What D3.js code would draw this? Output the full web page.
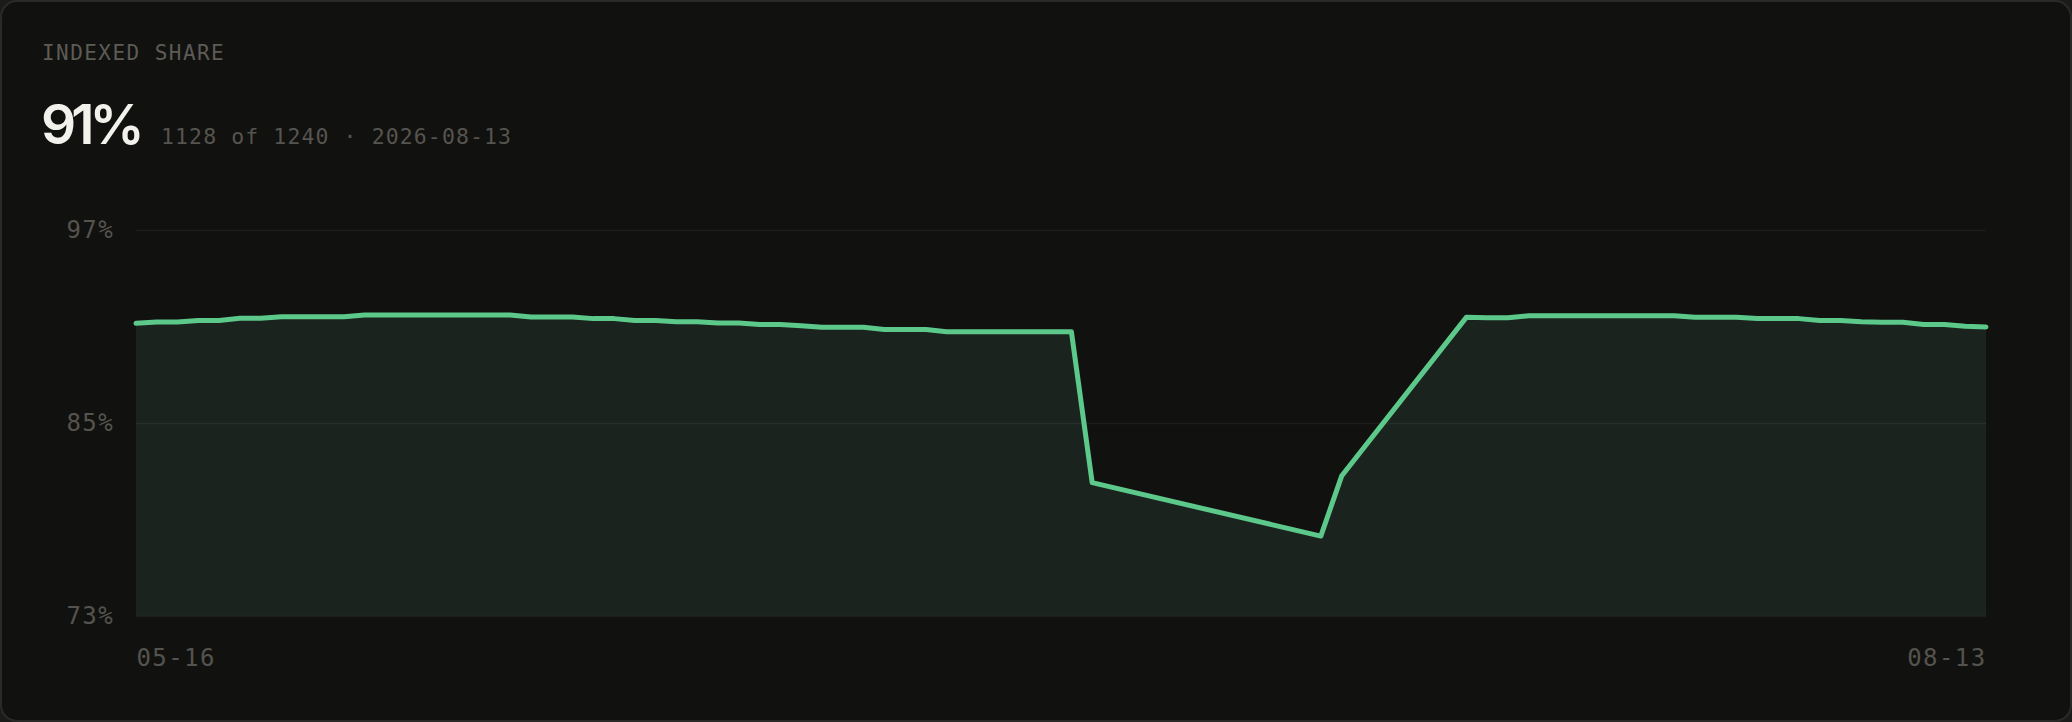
<!DOCTYPE html>
<html>
<head>
<meta charset="utf-8">
<script src="https://cdn.jsdelivr.net/npm/d3@7/dist/d3.min.js"></script>
<style>
  html, body { margin: 0; padding: 0; background: #1b1b1a; }
  svg { display: block; }
</style>
</head>
<body>
<svg id="chart" width="2072" height="722"></svg>
<script>
// ---- data ----
const title = "INDEXED SHARE";
const headline = "91%";
const subline = "1128 of 1240 \u00b7 2026-08-13";

const dates = [
  "2026-05-16","2026-05-17","2026-05-18","2026-05-19","2026-05-20","2026-05-21","2026-05-22","2026-05-23",
  "2026-05-24","2026-05-25","2026-05-26","2026-05-27","2026-05-28","2026-05-29","2026-05-30","2026-05-31",
  "2026-06-01","2026-06-02","2026-06-03","2026-06-04","2026-06-05","2026-06-06","2026-06-07","2026-06-08",
  "2026-06-09","2026-06-10","2026-06-11","2026-06-12","2026-06-13","2026-06-14","2026-06-15","2026-06-16",
  "2026-06-17","2026-06-18","2026-06-19","2026-06-20","2026-06-21","2026-06-22","2026-06-23","2026-06-24",
  "2026-06-25","2026-06-26","2026-06-27","2026-06-28","2026-06-29","2026-06-30","2026-07-01",
  "2026-07-12","2026-07-13",
  "2026-07-19","2026-07-20","2026-07-21","2026-07-22","2026-07-23","2026-07-24","2026-07-25","2026-07-26",
  "2026-07-27","2026-07-28","2026-07-29","2026-07-30","2026-07-31","2026-08-01","2026-08-02","2026-08-03",
  "2026-08-04","2026-08-05","2026-08-06","2026-08-07","2026-08-08","2026-08-09","2026-08-10","2026-08-11",
  "2026-08-12","2026-08-13"
];
const shares = [
  91.20,91.28,91.28,91.38,91.38,91.51,91.51,91.61,
  91.61,91.61,91.61,91.72,91.72,91.72,91.72,91.72,
  91.72,91.72,91.72,91.59,91.59,91.59,91.49,91.49,
  91.38,91.38,91.30,91.30,91.22,91.22,91.13,91.13,
  91.05,90.95,90.95,90.95,90.82,90.82,90.82,90.68,
  90.68,90.68,90.68,90.68,90.68,90.68,81.29,
  77.97,81.70,
  91.57,91.55,91.55,91.67,91.67,91.67,91.67,91.67,
  91.67,91.67,91.67,91.57,91.57,91.57,91.49,91.49,
  91.49,91.38,91.38,91.30,91.26,91.26,91.13,91.13,
  91.01,90.97
];
const yTicks = [73, 85, 97];
const yDomain = [73, 97];
const xTickDates = ["2026-05-16", "2026-08-13"];

// ---- layout ----
const W = 2072, H = 722;
const plot = { left: 136, right: 1986, top: 230, bottom: 616 };
const colors = {
  card: "#111110", border: "#2a2a28", title: "#5d5b56", big: "#f3f1ec",
  sub: "#56544f", axis: "#55534e", line: "#5cc98b", fill: "#1b231e"
};
const mono = "'DejaVu Sans Mono', 'Liberation Mono', monospace";

const parse = d3.timeParse("%Y-%m-%d");
const data = dates.map((d, i) => ({ date: parse(d), value: shares[i] }));

const svg = d3.select("#chart");

svg.append("rect")
  .attr("x", 1).attr("y", 1).attr("width", W - 2).attr("height", H - 2)
  .attr("rx", 16).attr("ry", 16)
  .attr("fill", colors.card).attr("stroke", colors.border).attr("stroke-width", 2);

// header
svg.append("text")
  .attr("x", 42).attr("y", 60)
  .attr("font-family", mono).attr("font-size", 21).attr("letter-spacing", "1.45px")
  .attr("fill", colors.title).text(title);

svg.append("text")
  .attr("x", 41).attr("y", 144)
  .attr("font-family", "Inter, 'Noto Sans', sans-serif").attr("font-size", 55)
  .attr("font-weight", 600).attr("letter-spacing", "-5px")
  .attr("fill", colors.big).text(headline);

svg.append("text")
  .attr("x", 161).attr("y", 144)
  .attr("font-family", mono).attr("font-size", 21.5).attr("letter-spacing", "1.1px")
  .attr("fill", colors.sub).text(subline);

// scales
const x = d3.scaleTime()
  .domain([parse(xTickDates[0]), parse(xTickDates[1])])
  .range([plot.left, plot.right]);
const y = d3.scaleLinear().domain(yDomain).range([plot.bottom, plot.top]);

// area
const area = d3.area()
  .x(d => x(d.date)).y0(y(yDomain[0])).y1(d => y(d.value))
  .curve(d3.curveLinear);
const line = d3.line()
  .x(d => x(d.date)).y(d => y(d.value))
  .curve(d3.curveLinear);

svg.append("path").datum(data)
  .attr("d", area).attr("fill", colors.fill);

// grid + y axis
const yAxis = svg.append("g")
  .attr("transform", `translate(${plot.left},0)`)
  .call(d3.axisLeft(y).tickValues(yTicks)
    .tickSize(-(plot.right - plot.left)).tickPadding(22)
    .tickFormat(d => d + "%"));
yAxis.select(".domain").remove();
yAxis.selectAll(".tick line")
  .attr("stroke", "#ffffff").attr("stroke-opacity", 0.05).attr("stroke-width", 1.5);
yAxis.selectAll(".tick text")
  .attr("fill", colors.axis).attr("font-family", mono).attr("font-size", 24)
  .attr("letter-spacing", "1.4px");

// line
svg.append("path").datum(data)
  .attr("d", line).attr("fill", "none")
  .attr("stroke", colors.line).attr("stroke-width", 5)
  .attr("stroke-linejoin", "round").attr("stroke-linecap", "round");

// x axis (first/last labels)
const fmt = d3.timeFormat("%m-%d");
const xAxis = svg.append("g")
  .attr("transform", `translate(0,${plot.bottom})`)
  .call(d3.axisBottom(x).tickValues(xTickDates.map(parse))
    .tickSize(0).tickPadding(33).tickFormat(fmt));
xAxis.select(".domain").remove();
xAxis.selectAll(".tick text")
  .attr("fill", colors.axis).attr("font-family", mono).attr("font-size", 24)
  .attr("letter-spacing", "1.4px")
  .attr("text-anchor", (d, i) => i === 0 ? "start" : "end");
</script>
</body>
</html>
